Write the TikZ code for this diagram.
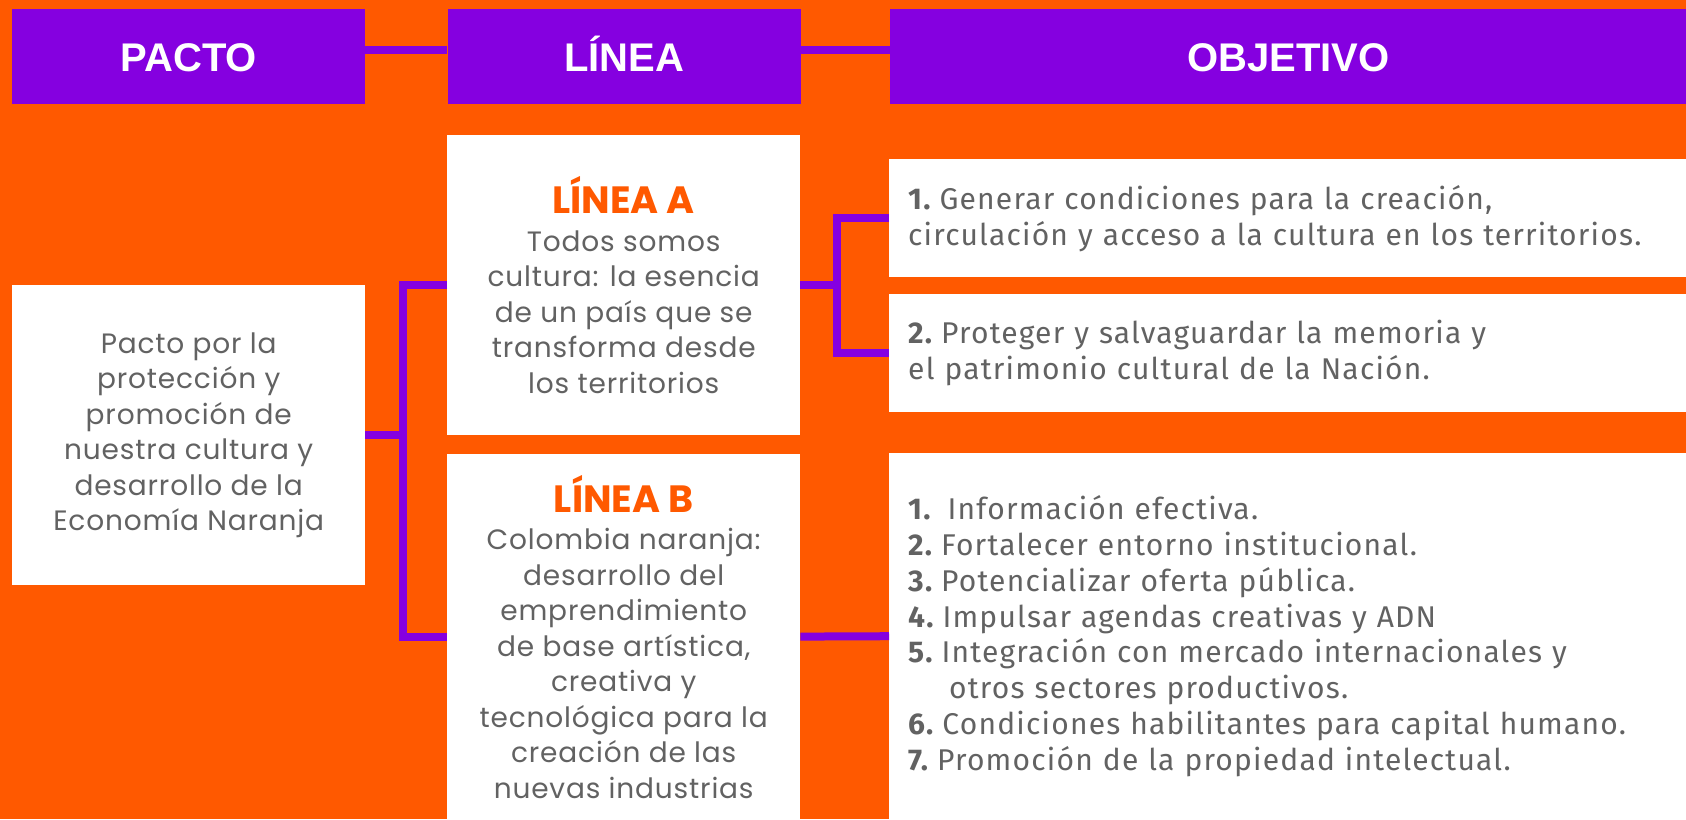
\documentclass[tikz,border=0pt]{standalone}
\usepackage{fontspec}
\setmainfont{Poppins}[LetterSpace=3]
\newfontfamily\encabfont{Liberation Sans}
\newfontfamily\objfont{Fira Sans}[LetterSpace=4]
\usetikzlibrary{positioning}
\definecolor{naranja}{RGB}{255,89,0}
\definecolor{morado}{RGB}{133,0,224}
\definecolor{gristexto}{RGB}{98,98,98}
\newcommand{\cuerpo}{\fontsize{28}{35.5}\selectfont}
\newcommand{\titulolinea}[1]{{\color{naranja}\bfseries\fontsize{38}{40}\selectfont\addfontfeature{LetterSpace=0}#1}}
\newcommand{\num}[1]{{\bfseries #1}\hspace{9pt}}

\begin{document}
\begin{tikzpicture}[x=1pt,y=-1pt,
    encab/.style={rectangle,fill=morado,inner sep=0pt,minimum height=95pt,text=white,
      text height=29pt,text depth=0pt,font=\encabfont\bfseries\fontsize{40}{45}\selectfont},
    caja/.style={rectangle,fill=white,inner sep=0pt,minimum width=353pt,align=center,
      text=gristexto,font=\cuerpo},
    objcaja/.style={rectangle,fill=white,inner xsep=19pt,inner ysep=0pt,text width=759pt,
      align=left,text=gristexto,font=\objfont\fontsize{30}{36}\selectfont},
    enlace/.style={morado,line width=8pt}]
  % Fondo
  \fill[naranja] (0,0) rectangle (1686,819);
  \useasboundingbox (0,0) rectangle (1686,819);

  % Encabezados
  \node[encab,minimum width=353pt,anchor=north west] (pactoH) at (12,9) {PACTO};
  \node[encab,minimum width=353pt,right=82pt of pactoH] (lineaH) {LÍNEA};
  \node[encab,minimum width=797pt,right=89pt of lineaH] (objH) {OBJETIVO};

  % Pacto
  \node[caja,minimum height=300pt,anchor=north west] (pacto) at (12,285)
    {Pacto por la\\ protección y\\ promoción de\\ nuestra cultura y\\ desarrollo de la\\ Economía Naranja};

  % Lineas
  \node[caja,minimum height=300pt,anchor=north west] (lineaA) at (447,135)
    {\titulolinea{LÍNEA A}\\[2pt] Todos somos\\ cultura: la esencia\\ de un país que se\\ transforma desde\\ los territorios};
  \node[caja,minimum height=366pt,below=18pt of lineaA] (lineaB)
    {\titulolinea{LÍNEA B}\\[2pt] Colombia naranja:\\ desarrollo del\\ emprendimiento\\ de base artística,\\ creativa y\\ tecnológica para la\\ creación de las\\ nuevas industrias};

  % Objetivos
  \node[objcaja,minimum height=118pt,anchor=north west] (obj1) at (889,159)
    {\num{1.}Generar condiciones para la creación,\\ circulación y acceso a la cultura en los territorios.};
  \node[objcaja,minimum height=118pt,below=16pt of obj1] (obj2)
    {\num{2.}Proteger y salvaguardar la memoria y\\ el patrimonio cultural de la Nación.};
  \node[objcaja,minimum height=366pt,anchor=north west] (objB) at (889,453)
    {\fontsize{30}{35.7}\selectfont
     \num{1.}\hspace{8pt}Información efectiva.\\
     \num{2.}Fortalecer entorno institucional.\\
     \num{3.}Potencializar oferta pública.\\
     \num{4.}Impulsar agendas creativas y ADN\\
     \num{5.}Integración con mercado internacionales y\\
     \hspace*{41pt}otros sectores productivos.\\
     \num{6.}Condiciones habilitantes para capital humano.\\
     \num{7.}Promoción de la propiedad intelectual.};

  % Conectores
  \draw[enlace] ([yshift=6.5pt]pactoH.east) -- ([yshift=6.5pt]lineaH.west);
  \draw[enlace] ([yshift=6.5pt]lineaH.east) -- ([yshift=6.5pt]objH.west);
  \path (pacto.east) ++(38,0) coordinate (llave);
  \draw[enlace] (pacto.east) -- (llave);
  \draw[enlace] (lineaA.west) -| (llave) |- (lineaB.west);
  \path (lineaA.east) ++(37,0) coordinate (llaveA);
  \draw[enlace] (lineaA.east) -- (llaveA);
  \draw[enlace] (obj1.west) -| (llaveA) |- (obj2.west);
  \draw[enlace] (lineaB.east) -- (objB.west);
\end{tikzpicture}
\end{document}
